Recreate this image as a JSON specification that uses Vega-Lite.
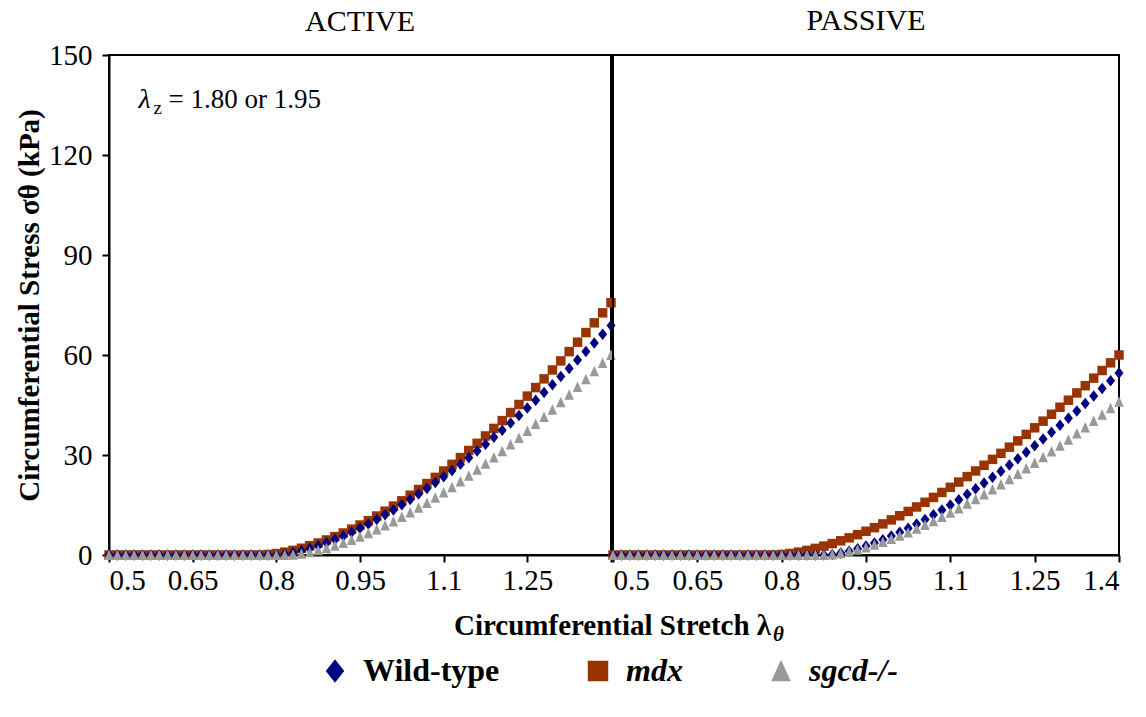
{
  "$schema": "https://vega.github.io/schema/vega-lite/v6.json",
  "background": "white",
  "padding": {"left": 14, "top": 5, "right": 5, "bottom": 5},
  "spacing": 2,
  "bounds": "flush",
  "datasets": {
    "active": [
      {"x":0.5,"wt":0,"mdx":0,"sg":0},{"x":0.515,"wt":0,"mdx":0,"sg":0},{"x":0.53,"wt":0,"mdx":0,"sg":0},{"x":0.545,"wt":0,"mdx":0,"sg":0},{"x":0.56,"wt":0,"mdx":0,"sg":0},{"x":0.575,"wt":0,"mdx":0,"sg":0},{"x":0.59,"wt":0,"mdx":0,"sg":0},{"x":0.605,"wt":0,"mdx":0,"sg":0},{"x":0.62,"wt":0,"mdx":0,"sg":0},{"x":0.635,"wt":0,"mdx":0,"sg":0},{"x":0.65,"wt":0,"mdx":0,"sg":0},{"x":0.665,"wt":0,"mdx":0,"sg":0},{"x":0.68,"wt":0,"mdx":0,"sg":0},{"x":0.695,"wt":0,"mdx":0,"sg":0},{"x":0.71,"wt":0,"mdx":0,"sg":0},{"x":0.725,"wt":0,"mdx":0,"sg":0},{"x":0.74,"wt":0,"mdx":0,"sg":0},{"x":0.755,"wt":0,"mdx":0,"sg":0},{"x":0.77,"wt":0,"mdx":0,"sg":0},
      {"x":0.785,"wt":0,"mdx":0.13,"sg":0},{"x":0.8,"wt":0,"mdx":0.43,"sg":0},{"x":0.815,"wt":0.23,"mdx":0.85,"sg":0},{"x":0.83,"wt":0.66,"mdx":1.39,"sg":0.09},{"x":0.845,"wt":1.24,"mdx":2.03,"sg":0.39},{"x":0.86,"wt":1.94,"mdx":2.77,"sg":0.83},{"x":0.875,"wt":2.74,"mdx":3.6,"sg":1.39},{"x":0.89,"wt":3.64,"mdx":4.52,"sg":2.04},{"x":0.905,"wt":4.62,"mdx":5.52,"sg":2.78},{"x":0.92,"wt":5.69,"mdx":6.6,"sg":3.6},{"x":0.935,"wt":6.82,"mdx":7.76,"sg":4.51},{"x":0.95,"wt":8.04,"mdx":9.0,"sg":5.49},{"x":0.965,"wt":9.31,"mdx":10.31,"sg":6.53},{"x":0.98,"wt":10.65,"mdx":11.69,"sg":7.65},{"x":0.995,"wt":12.06,"mdx":13.15,"sg":8.82},{"x":1.01,"wt":13.53,"mdx":14.67,"sg":10.07},{"x":1.025,"wt":15.06,"mdx":16.26,"sg":11.37},{"x":1.04,"wt":16.64,"mdx":17.93,"sg":12.73},{"x":1.055,"wt":18.29,"mdx":19.65,"sg":14.14},{"x":1.07,"wt":19.98,"mdx":21.43,"sg":15.61},{"x":1.085,"wt":21.72,"mdx":23.29,"sg":17.14},{"x":1.1,"wt":23.51,"mdx":25.2,"sg":18.73},{"x":1.115,"wt":25.37,"mdx":27.19,"sg":20.35},{"x":1.13,"wt":27.25,"mdx":29.23,"sg":22.03},{"x":1.145,"wt":29.2,"mdx":31.34,"sg":23.76},{"x":1.16,"wt":31.19,"mdx":33.5,"sg":25.54},{"x":1.175,"wt":33.24,"mdx":35.71,"sg":27.37},{"x":1.19,"wt":35.31,"mdx":37.98,"sg":29.23},{"x":1.205,"wt":37.45,"mdx":40.32,"sg":31.15},{"x":1.22,"wt":39.61,"mdx":42.73,"sg":33.12},{"x":1.235,"wt":41.83,"mdx":45.15,"sg":35.13},{"x":1.25,"wt":44.08,"mdx":47.66,"sg":37.18},{"x":1.265,"wt":46.39,"mdx":50.23,"sg":39.28},{"x":1.28,"wt":48.73,"mdx":52.84,"sg":41.43},{"x":1.295,"wt":51.1,"mdx":55.51,"sg":43.61},{"x":1.31,"wt":53.53,"mdx":58.23,"sg":45.83},{"x":1.325,"wt":55.98,"mdx":61.01,"sg":48.1},{"x":1.34,"wt":58.49,"mdx":63.84,"sg":50.41},{"x":1.355,"wt":61.03,"mdx":66.73,"sg":52.75},{"x":1.37,"wt":63.6,"mdx":69.65,"sg":55.13},{"x":1.385,"wt":66.21,"mdx":72.64,"sg":57.57},{"x":1.4,"wt":68.87,"mdx":75.68,"sg":60.03}
    ],
    "passive": [
      {"x":0.5,"wt":0,"mdx":0,"sg":0},{"x":0.515,"wt":0,"mdx":0,"sg":0},{"x":0.53,"wt":0,"mdx":0,"sg":0},{"x":0.545,"wt":0,"mdx":0,"sg":0},{"x":0.56,"wt":0,"mdx":0,"sg":0},{"x":0.575,"wt":0,"mdx":0,"sg":0},{"x":0.59,"wt":0,"mdx":0,"sg":0},{"x":0.605,"wt":0,"mdx":0,"sg":0},{"x":0.62,"wt":0,"mdx":0,"sg":0},{"x":0.635,"wt":0,"mdx":0,"sg":0},{"x":0.65,"wt":0,"mdx":0,"sg":0},{"x":0.665,"wt":0,"mdx":0,"sg":0},{"x":0.68,"wt":0,"mdx":0,"sg":0},{"x":0.695,"wt":0,"mdx":0,"sg":0},{"x":0.71,"wt":0,"mdx":0,"sg":0},{"x":0.725,"wt":0,"mdx":0,"sg":0},{"x":0.74,"wt":0,"mdx":0,"sg":0},{"x":0.755,"wt":0,"mdx":0,"sg":0},{"x":0.77,"wt":0,"mdx":0,"sg":0},{"x":0.785,"wt":0,"mdx":0,"sg":0},
      {"x":0.8,"wt":0,"mdx":0.15,"sg":0},{"x":0.815,"wt":0,"mdx":0.45,"sg":0},{"x":0.83,"wt":0,"mdx":0.87,"sg":0},{"x":0.845,"wt":0,"mdx":1.38,"sg":0},{"x":0.86,"wt":0,"mdx":1.99,"sg":0},{"x":0.875,"wt":0,"mdx":2.67,"sg":0},{"x":0.89,"wt":0.15,"mdx":3.42,"sg":0.12},{"x":0.905,"wt":0.58,"mdx":4.26,"sg":0.49},{"x":0.92,"wt":1.16,"mdx":5.14,"sg":0.98},{"x":0.935,"wt":1.88,"mdx":6.1,"sg":1.58},{"x":0.95,"wt":2.7,"mdx":7.12,"sg":2.28},{"x":0.965,"wt":3.61,"mdx":8.2,"sg":3.04},{"x":0.98,"wt":4.6,"mdx":9.33,"sg":3.88},{"x":0.995,"wt":5.68,"mdx":10.53,"sg":4.79},{"x":1.01,"wt":6.82,"mdx":11.77,"sg":5.75},{"x":1.025,"wt":8.04,"mdx":13.07,"sg":6.78},{"x":1.04,"wt":9.32,"mdx":14.41,"sg":7.85},{"x":1.055,"wt":10.66,"mdx":15.82,"sg":8.98},{"x":1.07,"wt":12.06,"mdx":17.27,"sg":10.16},{"x":1.085,"wt":13.51,"mdx":18.76,"sg":11.39},{"x":1.1,"wt":15.02,"mdx":20.3,"sg":12.66},{"x":1.115,"wt":16.59,"mdx":21.88,"sg":13.98},{"x":1.13,"wt":18.2,"mdx":23.52,"sg":15.34},{"x":1.145,"wt":19.86,"mdx":25.21,"sg":16.74},{"x":1.16,"wt":21.57,"mdx":26.93,"sg":18.18},{"x":1.175,"wt":23.33,"mdx":28.69,"sg":19.66},{"x":1.19,"wt":25.13,"mdx":30.5,"sg":21.18},{"x":1.205,"wt":26.98,"mdx":32.35,"sg":22.74},{"x":1.22,"wt":28.87,"mdx":34.24,"sg":24.33},{"x":1.235,"wt":30.8,"mdx":36.18,"sg":25.96},{"x":1.25,"wt":32.77,"mdx":38.16,"sg":27.62},{"x":1.265,"wt":34.78,"mdx":40.16,"sg":29.31},{"x":1.28,"wt":36.83,"mdx":42.23,"sg":31.04},{"x":1.295,"wt":38.92,"mdx":44.32,"sg":32.8},{"x":1.31,"wt":41.06,"mdx":46.44,"sg":34.6},{"x":1.325,"wt":43.22,"mdx":48.62,"sg":36.42},{"x":1.34,"wt":45.43,"mdx":50.8,"sg":38.28},{"x":1.355,"wt":47.67,"mdx":53.06,"sg":40.17},{"x":1.37,"wt":49.94,"mdx":55.34,"sg":42.08},{"x":1.385,"wt":52.25,"mdx":57.65,"sg":44.03},{"x":1.4,"wt":54.6,"mdx":60.0,"sg":46.01}
    ],
    "note": [{"sym": "λ", "sub": "z", "rest": "= 1.80 or 1.95"}]
  },
  "hconcat": [
    {
      "title": {"text": "ACTIVE", "offset": 4},
      "width": 502,
      "height": 500,
      "layer": [
        {"data": {"name": "active"},
         "mark": {"type": "point", "filled": true, "size": 90, "opacity": 1},
         "encoding": {
           "x": {"field": "x", "type": "quantitative",
             "scale": {"domain": [0.5, 1.4], "nice": false, "zero": false},
             "axis": {"values": [0.5, 0.65, 0.8, 0.95, 1.1, 1.25, 1.4], "format": ".2~f",
               "labelExpr": "datum.value > 1.39 ? '' : datum.label",
               "title": "Circumferential Stretch λ", "titleX": 503, "titleAlign": "center", "titleAnchor": null, "titlePadding": 16}},
           "y": {"field": "mdx", "type": "quantitative", "scale": {"domain": [0, 150], "nice": false},
             "axis": {"values": [0, 30, 60, 90, 120, 150], "format": "d", "title": "Circumferential Stress σθ (kPa)", "titlePadding": 4, "labelPadding": 10}},
           "color": {"datum": "mdx", "type": "nominal", "scale": {"domain": ["Wild-type", "mdx", "sgcd-/-"], "range": ["#000080", "#993300", "#999999"]},
             "legend": {"orient": "none", "legendX": 210, "legendY": 600, "direction": "horizontal",
               "labelFontStyle": {"expr": "datum.value === 'Wild-type' ? 'normal' : 'italic'"},
               "encode": {"labels": {"update": {"fontStyle": {"signal": "datum.value === 'Wild-type' ? 'normal' : 'italic'"}}}}}},
           "shape": {"datum": "mdx", "type": "nominal", "scale": {"domain": ["Wild-type", "mdx", "sgcd-/-"], "range": ["M0,-1.15L0.9,0L0,1.15L-0.9,0Z", "square", "M0,-1.1L0.95,1L-0.95,1Z"]},
             "legend": {"orient": "none", "legendX": 210, "legendY": 600, "direction": "horizontal",
               "labelFontStyle": {"expr": "datum.value === 'Wild-type' ? 'normal' : 'italic'"},
               "encode": {"labels": {"update": {"fontStyle": {"signal": "datum.value === 'Wild-type' ? 'normal' : 'italic'"}}}}}}}},
        {"data": {"name": "active"},
         "mark": {"type": "point", "filled": true, "size": 100, "opacity": 1},
         "encoding": {"x": {"field": "x", "type": "quantitative"}, "y": {"field": "wt", "type": "quantitative"}, "color": {"datum": "Wild-type", "type": "nominal"}, "shape": {"datum": "Wild-type", "type": "nominal"}}},
        {"data": {"name": "active"},
         "mark": {"type": "point", "filled": true, "size": 100, "opacity": 1},
         "encoding": {"x": {"field": "x", "type": "quantitative"}, "y": {"field": "sg", "type": "quantitative"}, "color": {"datum": "sgcd-/-", "type": "nominal"}, "shape": {"datum": "sgcd-/-", "type": "nominal"}}},
        {"data": {"name": "note"},
         "mark": {"type": "text", "align": "left", "baseline": "middle", "fontSize": 28, "fontStyle": "italic", "font": "Liberation Serif", "fill": "black"},
         "encoding": {"x": {"datum": 0.553}, "y": {"datum": 136.5}, "text": {"field": "sym"}}},
        {"data": {"name": "note"},
         "mark": {"type": "text", "align": "left", "baseline": "middle", "fontSize": 19, "dx": 15, "dy": 8, "font": "Liberation Serif", "fill": "black"},
         "encoding": {"x": {"datum": 0.553}, "y": {"datum": 136.5}, "text": {"field": "sub"}}},
        {"data": {"name": "note"},
         "mark": {"type": "text", "align": "left", "baseline": "middle", "fontSize": 27, "dx": 30, "font": "Liberation Serif", "fill": "black"},
         "encoding": {"x": {"datum": 0.553}, "y": {"datum": 136.5}, "text": {"field": "rest"}}}
      ]
    },
    {
      "title": {"text": "PASSIVE", "offset": 19},
      "width": 506,
      "height": 500,
      "data": {"name": "passive"},
      "layer": [
        {"mark": {"type": "point", "filled": true, "size": 90, "opacity": 1},
         "encoding": {
           "x": {"field": "x", "type": "quantitative",
             "scale": {"domain": [0.5, 1.4], "nice": false, "zero": false},
             "axis": {"values": [0.5, 0.65, 0.8, 0.95, 1.1, 1.25, 1.4], "format": ".2~f",
               "title": "θ", "titleX": 165, "titleAlign": "center", "titleAnchor": null, "titlePadding": 28,
               "titleFontStyle": "italic", "titleFontSize": 21}},
           "y": {"field": "mdx", "type": "quantitative", "scale": {"domain": [0, 150], "nice": false}, "axis": null},
           "color": {"datum": "mdx", "type": "nominal"}, "shape": {"datum": "mdx", "type": "nominal"}}},
        {"mark": {"type": "point", "filled": true, "size": 100, "opacity": 1},
         "encoding": {"x": {"field": "x", "type": "quantitative"}, "y": {"field": "wt", "type": "quantitative"}, "color": {"datum": "Wild-type", "type": "nominal"}, "shape": {"datum": "Wild-type", "type": "nominal"}}},
        {"mark": {"type": "point", "filled": true, "size": 100, "opacity": 1},
         "encoding": {"x": {"field": "x", "type": "quantitative"}, "y": {"field": "sg", "type": "quantitative"}, "color": {"datum": "sgcd-/-", "type": "nominal"}, "shape": {"datum": "sgcd-/-", "type": "nominal"}}}
      ]
    }
  ],
  "resolve": {"scale": {"color": "shared", "shape": "shared"}},
  "config": {
    "font": "Liberation Serif",
    "view": {"stroke": "black", "strokeWidth": 2},
    "title": {"fontSize": 30, "fontWeight": "normal", "color": "black", "font": "Liberation Serif"},
    "axis": {"grid": false, "domainColor": "black", "domainWidth": 2, "tickColor": "black", "tickWidth": 2, "tickSize": 7,
      "labelFontSize": 29, "labelColor": "black", "labelFont": "Liberation Serif", "labelPadding": 4,
      "titleFontSize": 29, "titleFontWeight": "bold", "titleColor": "black", "titleFont": "Liberation Serif"},
    "legend": {
      "title": null,
      "labelFontSize": 32, "labelFontWeight": "bold", "labelColor": "black", "labelFont": "Liberation Serif",
      "symbolSize": 420, "symbolStrokeWidth": 0, "columnPadding": 82, "labelOffset": 12
    }
  }
}
